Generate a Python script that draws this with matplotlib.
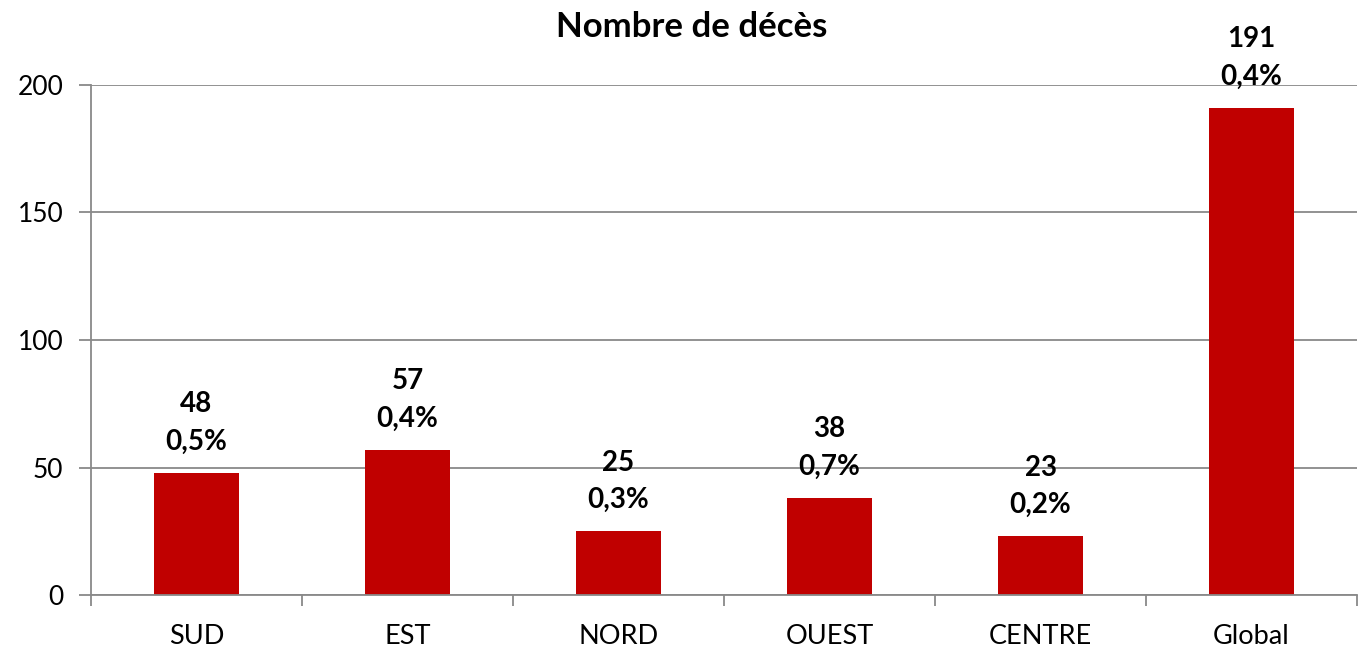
import matplotlib
matplotlib.use("Agg")
import matplotlib.pyplot as plt
import numpy as np

categories = ["SUD", "EST", "NORD", "OUEST", "CENTRE", "Global"]
deaths = [48, 57, 25, 38, 23, 191]
rates = ["0,5%", "0,4%", "0,3%", "0,7%", "0,2%", "0,4%"]
yticks = [0, 50, 100, 150, 200]

plt.rcParams['font.family'] = ['Lato', 'DejaVu Sans']

fig = plt.figure(figsize=(13.62, 6.5), dpi=100)
ax = fig.add_axes([91/1362, 1-595/650, (1357-91)/1362, (595-85)/650])

x = np.arange(len(categories))
ax.bar(x, deaths, width=0.4, color="#C00000", zorder=3)

ax.set_xlim(-0.5, len(categories)-0.5)
ax.set_ylim(0, 200)
ax.set_yticks(yticks)
ax.set_yticklabels([str(v) for v in yticks], fontsize=19)
ax.set_xticks(x)
ax.set_xticklabels(categories, fontsize=19.5)
ax.tick_params(axis='x', length=0, pad=21)
ax.set_xticks(np.arange(len(categories)+1)-0.5, minor=True)
ax.tick_params(axis='x', which='minor', length=8, color="#898989", width=1.3, direction='out')
ax.tick_params(axis='y', length=9, color="#898989", width=1.3, pad=11)

ax.grid(axis='y', color="#898989", linewidth=1.3, zorder=0)
for s in ["top", "right"]:
    ax.spines[s].set_visible(False)
for s in ["left", "bottom"]:
    ax.spines[s].set_color("#898989")
    ax.spines[s].set_linewidth(1.3)
ax.spines["bottom"].set_zorder(4)

for xi, d, r in zip(x, deaths, rates):
    ax.annotate(f"{d}\n{r}", (xi, d), xytext=(0, 13), textcoords="offset points",
                ha="center", va="bottom", fontsize=20, fontweight="bold",
                linespacing=1.55, annotation_clip=False)

fig.text(692/1362, 1-27/650, "Nombre de décès", ha="center", va="center",
         fontsize=25, fontweight="bold")

fig.savefig("out.png", dpi=100)
